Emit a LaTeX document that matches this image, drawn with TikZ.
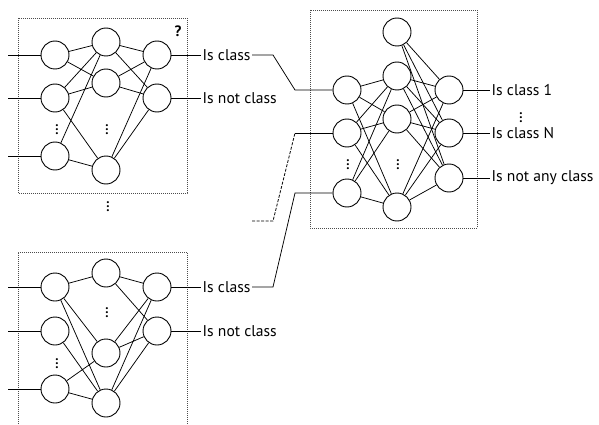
\documentclass[tikz,border=0pt]{standalone}
\usepackage{fontspec}
\setmainfont{PT Sans}
\begin{document}
\begin{tikzpicture}[x=1pt,y=-1pt,
  neuron/.style={circle,draw,line width=0.9pt,minimum size=28pt,inner sep=0pt,fill=white},
  edge/.style={line width=0.75pt},
  frame/.style={draw=black!70,line width=0.7pt,dash pattern=on 0.7pt off 1.3pt},
  lbl/.style={anchor=west,inner sep=1.5pt,font=\fontsize{15.6}{18}\selectfont},
  vd/.style={inner sep=0pt,font=\fontsize{13}{13}\selectfont\bfseries}]
\useasboundingbox (0,0) rectangle (599,425);
% ---------- top-left network ----------
\draw[frame] (18,18) rectangle (187,193);
\node[neuron] (ai1) at (55,55) {};
\node[neuron] (ai2) at (55,98) {};
\node[neuron] (ai3) at (55,156) {};
\node[neuron] (ah1) at (106,42) {};
\node[neuron] (ah2) at (106,83) {};
\node[neuron] (ah3) at (106,170) {};
\node[neuron] (ao1) at (157,55) {};
\node[neuron] (ao2) at (157,98) {};
\coordinate (ax1) at (8,55);
\coordinate (ax2) at (8,98);
\coordinate (ax3) at (8,156);
\draw[edge] (ax1)--(ai1) (ax2)--(ai2) (ax3)--(ai3);
\draw[edge] (ai1)--(ah1) (ai1)--(ah2)
            (ai2)--(ah1) (ai2)--(ah2) (ai2)--(ah3)
            (ai3)--(ah1) (ai3)--(ah3);
\foreach \h in {1,2,3}{\draw[edge] (ah\h)--(ao1) (ah\h)--(ao2);}
\node[vd] (adi) at (57,127) {$\vdots$};
\node[vd] (adh) at (107,127) {$\vdots$};
\node[vd] (adb) at (108,204) {$\vdots$};
\node[inner sep=0pt,font=\fontsize{15}{15}\selectfont\bfseries] (aq) at (178,31) {?};
\node[lbl] (al1) at (201,55) {Is class};
\node[lbl] (al2) at (201,98) {Is not class};
\draw[edge] (ao1)--(al1.west) (ao2)--(al2.west);
% ---------- bottom-left network ----------
\draw[frame] (18,426)--(18,252)--(187,252)--(187,426);
\node[neuron] (bi1) at (55,287) {};
\node[neuron] (bi2) at (55,331) {};
\node[neuron] (bi3) at (55,389) {};
\node[neuron] (bh1) at (106,273) {};
\node[neuron] (bh2) at (106,353) {};
\node[neuron] (bh3) at (106,403) {};
\node[neuron] (bo1) at (157,287) {};
\node[neuron] (bo2) at (157,331) {};
\coordinate (bx1) at (8,287);
\coordinate (bx2) at (8,331);
\coordinate (bx3) at (8,389);
\draw[edge] (bx1)--(bi1) (bx2)--(bi2) (bx3)--(bi3);
\draw[edge] (bi1)--(bh1) (bi1)--(bh2) (bi1)--(bh3)
            (bi2)--(bh3)
            (bi3)--(bh2) (bi3)--(bh3);
\foreach \h in {1,2,3}{\draw[edge] (bh\h)--(bo1) (bh\h)--(bo2);}
\node[vd] (bdi) at (57,361) {$\vdots$};
\node[vd] (bdh) at (107,310) {$\vdots$};
\node[lbl] (bl1) at (201,287) {Is class};
\node[lbl] (bl2) at (201,331) {Is not class};
\draw[edge] (bo1)--(bl1.west) (bo2)--(bl2.west);
% ---------- right network ----------
\draw[frame] (310,10) rectangle (477,228);
\node[neuron] (ci1) at (347,90) {};
\node[neuron] (ci2) at (347,133) {};
\node[neuron] (ci3) at (347,193) {};
\node[neuron] (ch0) at (397,32) {};
\node[neuron] (ch1) at (397,76) {};
\node[neuron] (ch2) at (397,119) {};
\node[neuron] (ch3) at (397,207) {};
\node[neuron] (co1) at (449,90) {};
\node[neuron] (co2) at (449,133) {};
\node[neuron] (co3) at (449,178) {};
\foreach \i in {1,2,3}{\foreach \h in {1,2,3}{\draw[edge] (ci\i)--(ch\h);}}
\foreach \h in {0,1,2,3}{\foreach \o in {1,2,3}{\draw[edge] (ch\h)--(co\o);}}
\node[vd] (cdi) at (348,162) {$\vdots$};
\node[vd] (cdh) at (398,162) {$\vdots$};
\node[lbl] (cl1) at (490,90) {Is class 1};
\node[lbl] (cl2) at (490,133) {Is class N};
\node[lbl] (cl3) at (490,178) {Is not any class};
\node[vd] (cdl) at (521,115) {$\vdots$};
\draw[edge] (co1)--(cl1.west) (co2)--(cl2.west) (co3)--(cl3.west);
% ---------- connectors between networks ----------
\coordinate (k1a) at (273,55);
\coordinate (k1b) at (295,90);
\draw[edge] (al1.east)--(k1a)--(k1b)--(ci1);
\coordinate (k2s) at (252,221);
\coordinate (k2a) at (273,221);
\coordinate (k2b) at (295,133);
\draw[edge,dash pattern=on 3pt off 1.5pt] (k2s)--(k2a)--(k2b);
\draw[edge] (k2b)--(ci2);
\coordinate (k3a) at (273,287);
\coordinate (k3b) at (295,193);
\draw[edge] (bl1.east)--(k3a)--(k3b)--(ci3);
\end{tikzpicture}
\end{document}
